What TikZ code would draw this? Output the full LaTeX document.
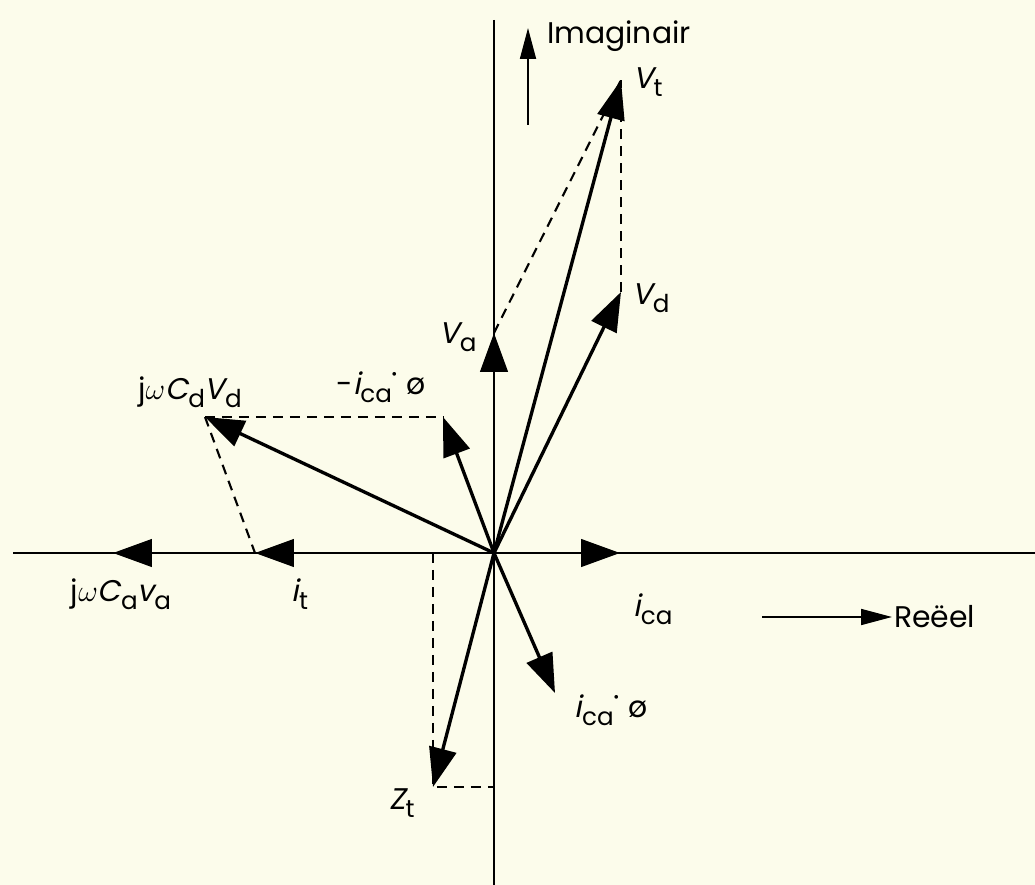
\documentclass[tikz,border=0pt]{standalone}
\usepackage{fontspec}
\setmainfont{Poppins}[AutoFakeSlant=0.2]
\usepackage{tikz}
\usetikzlibrary{arrows.meta,positioning}
\definecolor{paper}{rgb}{0.99, 0.99, 0.92}
\newcommand{\vl}[2]{\textit{#1}\raisebox{-0.5ex}{\fontsize{14}{14}\selectfont #2}}

\begin{document}
\begin{tikzpicture}[x=0.02cm,y=-0.02cm,
    axis/.style={line width=1.7pt},
    vec/.style={line width=1.9pt,-{Triangle[length=0.78cm,width=0.55cm]}},
    onaxis/.style={vec,line width=1.7pt},
    aux/.style={line width=1.2pt,dash pattern=on 0.2cm off 0.14cm},
    legend/.style={line width=1pt,-{Triangle[length=0.62cm,width=0.32cm]}},
    lbl/.style={font=\fontsize{17}{20}\selectfont,inner sep=1pt}]
        \fill[paper] (0,0) rectangle (1035,885);
        \useasboundingbox (0,0) rectangle (1035,885);
        % axes
        \coordinate (O) at (494,553);
        \coordinate (xl) at (13,553);
        \coordinate (xr) at (1035,553);
        \coordinate (yt) at (494,20);
        \coordinate (yb) at (494,885);
        \draw[axis] (xl) -- (xr);
        \draw[axis] (yt) -- (yb);
        % phasor tips
        \coordinate (Vt) at (621,80);
        \coordinate (Vd) at (621,292);
        \coordinate (Va) at (494,333);
        \coordinate (mica) at (443,417);
        \coordinate (jCd) at (205,417);
        \coordinate (ica) at (620,553);
        \coordinate (it) at (255,553);
        \coordinate (jCa) at (113,553);
        \coordinate (icaO) at (555,693);
        \coordinate (Zt) at (433,787);
        % construction lines
        \draw[aux] (Va) -- (Vt);
        \draw[aux] (Vd) -- (Vt);
        \draw[aux] (jCd) -- (mica);
        \draw[aux] (jCd) -- (it);
        \draw[aux] (Zt |- O) -- (Zt) -- (O |- Zt);
        % phasors
        \draw[vec] (O) -- (Vt);
        \draw[vec] (O) -- (Vd);
        \draw[onaxis] (O) -- (Va);
        \draw[vec] (O) -- (mica);
        \draw[vec] (O) -- (jCd);
        \draw[onaxis] (O) -- (ica);
        \draw[onaxis] (O) -- (it);
        \draw[onaxis] (it) -- (jCa);
        \draw[vec] (O) -- (icaO);
        \draw[vec] (O) -- (Zt);
        % labels
        \node[lbl] (lVt) at (648,82) {\vl{V}{t}};
        \node[lbl] (lVd) at (651,298) {\vl{V}{d}};
        \node[lbl] (lVa) at (458,337) {\vl{V}{a}};
        \node[lbl] (lmica) at (381,387) {-\vl{i}{ca}\raisebox{0.6ex}{·} ø};
        \node[lbl] (ljCd) at (190,392) {j$\omega$\vl{C}{d}\vl{V}{d}};
        \node[lbl] (lica) at (653,609) {\vl{i}{ca}};
        \node[lbl] (lit) at (300,594) {\vl{i}{t}};
        \node[lbl] (ljCa) at (121,594) {j$\omega$\vl{C}{a}\vl{v}{a}};
        \node[lbl] (licaO) at (611,710) {\vl{i}{ca}\raisebox{0.6ex}{·} ø};
        \node[lbl] (lZt) at (402,803) {\vl{Z}{t}};
        % direction keys
        \coordinate (imA) at (528,125);
        \coordinate (imB) at (528,28);
        \draw[legend] (imA) -- (imB);
        \node[lbl,anchor=base west] (im) at (545,44) {Imaginair};
        \coordinate (reA) at (762,617);
        \coordinate (reB) at (892,617);
        \draw[legend] (reA) -- (reB);
        \node[lbl,anchor=west] (re) at (reB) {Reëel};
    \end{tikzpicture}
\end{document}
